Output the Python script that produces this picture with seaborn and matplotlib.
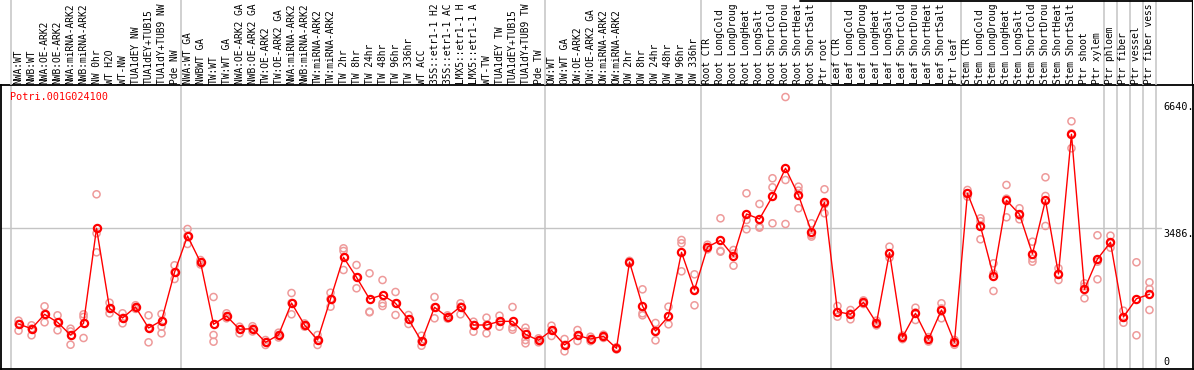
import numpy as np
import pandas as pd
import seaborn as sns
import matplotlib.pyplot as plt

sns.set_style('white')
plt.rcParams['font.family'] = ['DejaVu Sans Mono']

# ---- data ----
gene_id = 'Potri.001G024100'

# sample names as far as they are visible in the header
samples = [
    'NWA:WT', 'NWB:WT', 'NWA:OE-ARK2', 'NWB:OE-ARK2', 'NWA:miRNA-ARK2', 'NWB:miRNA-ARK2',
    'NW 0hr', 'WT H2O', 'WT-NW', 'TUA1dEY NW', 'TUA1dEY+TUB15', 'TUA1dY+TUB9 NW', 'Pde NW',
    'NWA:WT GA', 'NWBWT GA', 'TW:WT', 'TW:WT GA', 'NWA:OE-ARK2 GA', 'NWB:OE-ARK2 GA',
    'TW:OE-ARK2', 'TW:OE-ARK2 GA', 'NWA:miRNA-ARK2', 'NWB:miRNA-ARK2', 'TW:miRNA-ARK2',
    'TW:miRNA-ARK2', 'TW 2hr', 'TW 8hr', 'TW 24hr', 'TW 48hr', 'TW 96hr', 'TW 336hr',
    'WT ACC', '35S::etr1-1 H2', '35S::etr1-1 AC', 'LMX5::etr1-1 H', 'LMX5::etr1-1 A',
    'WT-TW', 'TUA1dEY TW', 'TUA1dEY+TUB15', 'TUA1dY+TUB9 TW', 'Pde TW',
    'OW:WT', 'OW:WT GA', 'OW:OE-ARK2', 'OW:OE-ARK2 GA', 'OW:miRNA-ARK2', 'OW:miRNA-ARK2',
    'OW 2hr', 'OW 8hr', 'OW 24hr', 'OW 48hr', 'OW 96hr', 'OW 336hr',
    'Root CTR', 'Root LongCold', 'Root LongDroug', 'Root LongHeat', 'Root LongSalt',
    'Root ShortCold', 'Root ShortDrou', 'Root ShortHeat', 'Root ShortSalt', 'Ptr root',
    'Leaf CTR', 'Leaf LongCold', 'Leaf LongDroug', 'Leaf LongHeat', 'Leaf LongSalt',
    'Leaf ShortCold', 'Leaf ShortDrou', 'Leaf ShortHeat', 'Leaf ShortSalt', 'Ptr leaf',
    'Stem CTR', 'Stem LongCold', 'Stem LongDroug', 'Stem LongHeat', 'Stem LongSalt',
    'Stem ShortCold', 'Stem ShortDrou', 'Stem ShortHeat', 'Stem ShortSalt', 'Ptr shoot',
    'Ptr xylem', 'Ptr phloem', 'Ptr fiber', 'Ptr vessel', 'Ptr fiber vess',
]

mean_expr = [
    1115, 999, 1355, 1157, 843, 1132, 3486, 1504, 1264, 1536, 1016, 1197, 2396,
    3296, 2643, 1107, 1313, 983, 999, 661, 843, 1635, 1090, 718, 1735, 2767, 2272,
    1735, 1834, 1628, 1231, 686, 1529, 1289, 1544, 1090, 1090, 1181, 1181, 859, 711,
    958, 595, 834, 743, 809, 512, 2651, 1561, 941, 1305, 2891, 1958,
    3023, 3189, 2792, 3841, 3717, 4279, 4973, 4304, 3403, 4130,
    1420, 1355, 1652, 1140, 2882, 785, 1380, 736, 1462, 661,
    4354, 3536, 2305, 4180, 3833, 2850, 4180, 2354, 5816, 1974,
    2726, 3140, 1289, 1742, 1851,
]

replicates = [
    [1197, 1115, 949], [1083, 999, 835], [1553, 1355, 1157], [1330, 1157, 959],
    [999, 930, 602], [1355, 1289, 768], [4329, 3362, 2891], [1643, 1490, 1380],
    [1380, 1264, 1132], [1580, 1536, 1490], [1330, 1016, 661], [1363, 1048, 884],
    [2570, 2396, 2230],
    [3469, 3296, 3098], [2700, 2643, 2590], [1784, 843, 677], [1380, 1313, 1256],
    [1048, 983, 884], [1060, 999, 930], [718, 661, 595], [900, 843, 780],
    [1883, 1635, 1355], [1130, 1090, 1050], [843, 718, 595], [1891, 1735, 1544],
    [2990, 2924, 2453], [2577, 2272, 2000], [2371, 1420, 1405], [2205, 1628, 1561],
    [1908, 1628, 1338], [1338, 1231, 1115], [825, 686, 577], [1784, 1529, 1256],
    [1330, 1289, 1250], [1628, 1544, 1355], [1172, 1090, 924], [1272, 1090, 884],
    [1321, 1181, 1048], [1536, 1033, 974], [1023, 924, 718, 636], [760, 711, 660],
    [1073, 958, 818], [743, 595, 438], [966, 834, 694], [800, 743, 690],
    [850, 809, 770], [540, 512, 485], [2680, 2651, 2620], [1974, 1380, 1330],
    [1140, 941, 710], [1544, 1305, 1107], [3197, 3115, 2420], [2346, 1958, 1578],
    [3080, 3023, 2965], [3734, 2907, 2926], [2949, 2860, 2560], [4354, 3692, 3462],
    [4089, 3527, 3502], [4726, 4502, 3610], [6739, 4683, 3593], [4518, 4420, 3982],
    [3610, 3321, 3280], [4453, 4080, 3858],
    [1561, 1400, 1297], [1462, 1370, 1231], [1700, 1652, 1610], [1200, 1140, 1080],
    [3031, 2858, 2758], [830, 785, 740], [1519, 1400, 1214], [790, 736, 680],
    [1628, 1500, 1256], [720, 661, 600],
    [4436, 4354, 4270], [3734, 3660, 3214], [2619, 2363, 1933], [4560, 4220, 3759],
    [3982, 3808, 3709], [3155, 2736, 2659], [4750, 4287, 3544], [2495, 2362, 2205],
    [6138, 5840, 5469], [2123, 2047, 1752], [3313, 2659, 2223],
    [3304, 3110, 3006], [1445, 1275, 1147], [2644, 835], [2148, 1982, 1462],
]

# last sample index of each group (gray separators drawn after them)
group_ends = [12, 40, 52, 62, 72, 83, 84, 85, 86, 87]
y_labels = [0, 3486, 6640]
grid_values = [3486]

mean_df = pd.DataFrame({'pos': np.arange(len(mean_expr)), 'expr': mean_expr})
rep_df = pd.DataFrame([(i, v) for i, reps in enumerate(replicates) for v in reps],
                      columns=['pos', 'expr'])

# ---- layout (pixels) ----
W, H = 1194, 370
fig = plt.figure(figsize=(W / 100, H / 100), dpi=100)
ax = fig.add_axes([1 / W, 1 / H, 1192 / W, 284 / H])
hx = fig.add_axes([1 / W, 285 / H, 1192 / W, 85 / H], sharex=ax)

x_lo, x_hi = -1.35, 90.35
grid_col = '#c4c4c4'

sns.scatterplot(data=rep_df, x='pos', y='expr', ax=ax, s=26, marker='o',
                fc='none', ec='#ee9a9a', linewidth=1.1, zorder=2, legend=False)
sns.lineplot(data=mean_df, x='pos', y='expr', ax=ax, color='red', lw=1.0,
             marker='o', markersize=5.2, markerfacecolor='none',
             markeredgecolor='red', markeredgewidth=1.6, zorder=3)

ax.set_xlim(x_lo, x_hi)
ax.set_ylim(0, 7037)
ax.set_xticks([])
ax.set_yticks([])
ax.set_xlabel('')
ax.set_ylabel('')
for sp in ax.spines.values():
    sp.set_visible(True)
    sp.set_color('black')
    sp.set_linewidth(1.3)

for g in grid_values:
    ax.axhline(g, xmin=0, xmax=0.973, color=grid_col, lw=1.0, zorder=1)

seps = [-0.6] + [e + 0.5 for e in group_ends]
for s in seps:
    ax.axvline(s, color=grid_col, lw=1.1, zorder=1)
    hx.axvline(s, color=grid_col, lw=1.1, zorder=1)

# right hand value labels
for v in y_labels:
    off = 7 if v == 0 else -6
    ax.annotate(f'{v}.' if v else '0', xy=(0.9748, v), xycoords=ax.get_yaxis_transform(),
                xytext=(0, off), textcoords='offset pixels', va='center', ha='left',
                fontsize=7.3, color='black')

ax.text(0.0076, 0.959, gene_id, transform=ax.transAxes, color='red',
        fontsize=7.3, va='center', ha='left')

# header with sample names
hx.set_ylim(0, 1)
hx.axis('off')
for i, name in enumerate(samples):
    hx.text(i, 1.2 / 85, name, rotation=90, ha='center', va='bottom',
            fontsize=6.95, color='black')
hx.axhline(1 - 0.6 / 85, xmin=(800 - 1) / 1192, xmax=1, color='black', lw=1.3)
hx.axvline(x_hi, color='black', lw=1.6)

fig.savefig('out.png', dpi=100)
